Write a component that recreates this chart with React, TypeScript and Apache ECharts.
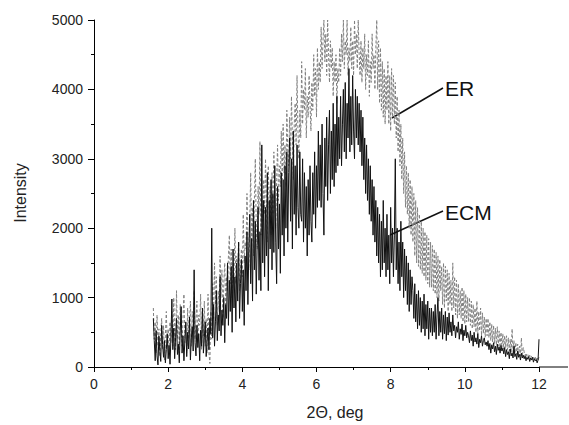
import React, { useEffect, useRef } from "react";
import * as echarts from "echarts";

const X_START = 1.6;
const X_STEP = 0.025;

const xTicks = [0, 2, 4, 6, 8, 10, 12];
const yTicks = [0, 1000, 2000, 3000, 4000, 5000];

// ECM (black, solid) intensities, 1.600 .. 12.000 deg, step 0.025 (20 per row = 0.5 deg)
const ecm = [
  700, 380, 90, 520, 160, 30, 450, 240, 80, 600, 320, 140, 380, 60, 250, 480, 120, 310, 40, 420,
  980, 250, 560, 120, 420, 700, 180, 330, 60, 520, 870, 200, 450, 90, 380, 650, 150, 500, 260, 720,
  100, 420, 580, 230, 1400, 350, 160, 600, 280, 480, 90, 530, 300, 850, 200, 420, 650, 150, 380, 560,
  250, 700, 480, 2000, 420, 900, 300, 650, 1100, 380, 750, 520, 1300, 450, 820, 600, 1000, 350, 900, 700,
  1500, 600, 1250, 800, 1450, 500, 1700, 850, 1300, 650, 1500, 950, 1800, 700, 1200, 1550, 800, 1400, 600, 1600,
  1100, 1950, 900, 1700, 2200, 1200, 1850, 950, 2400, 1400, 2100, 1050, 1750, 2300, 1250, 1950, 1100, 3200, 1500, 2400,
  1300, 2300, 1600, 2800, 1100, 2400, 1700, 2700, 1400, 2500, 1650, 2900, 1800, 1200, 2600, 1700, 2350, 1350, 2800, 1900,
  2700, 1600, 2900, 2000, 3100, 1800, 2800, 3300, 2100, 3000, 1700, 3400, 2200, 2900, 1900, 3200, 2300, 2000, 3100, 2200,
  2100, 3000, 1800, 2800, 2000, 2600, 1600, 2700, 1900, 2900, 2100, 1800, 2800, 2200, 3100, 2000, 2900, 2300, 3400, 2400,
  3200, 2300, 3500, 2500, 1900, 3300, 2600, 3600, 2400, 3200, 3700, 2500, 3400, 2700, 3800, 2600, 3500, 2800, 3900, 2900,
  3600, 3000, 3900, 2900, 3500, 4000, 3100, 4100, 3000, 3800, 3300, 4300, 3100, 3900, 3200, 4200, 3400, 3000, 4000, 3300,
  3900, 3200, 3800, 3100, 3700, 2900, 3600, 2700, 3300, 2500, 3200, 2400, 3000, 2200, 2900, 2100, 2700, 1900, 2600, 1800,
  2400, 1600, 2300, 1500, 2200, 1300, 2100, 1400, 2400, 1500, 2000, 1300, 2200, 1400, 1900, 1200, 2300, 1500, 2000, 1300,
  1900, 3000, 1400, 2000, 1200, 1800, 1100, 2100, 1300, 1800, 1000, 1700, 1100, 1600, 900, 1500, 800, 1400, 900, 1300,
  1100, 700, 1200, 650, 1050, 550, 1100, 600, 1000, 500, 950, 550, 1050, 450, 900, 550, 950, 400, 850, 500,
  850, 450, 800, 500, 900, 400, 750, 1000, 450, 800, 500, 850, 400, 750, 480, 800, 380, 720, 460, 780,
  500, 650, 450, 750, 520, 600, 420, 580, 500, 650, 400, 550, 470, 620, 380, 530, 450, 600, 420, 500,
  450, 350, 520, 380, 460, 300, 500, 360, 420, 330, 480, 280, 400, 350, 450, 300, 380, 420, 320, 360,
  300, 380, 250, 340, 200, 320, 260, 350, 220, 300, 180, 330, 240, 290, 200, 310, 230, 270, 190, 280,
  150, 250, 180, 220, 120, 260, 160, 200, 130, 300, 150, 190, 110, 230, 140, 180, 100, 200, 130, 170,
  120, 160, 90, 140, 110, 150, 80, 130, 100, 140, 70, 120, 90, 110, 60, 100, 400,
];

// ER (grey, dashed) intensities, 1.600 .. 12.000 deg, step 0.025
const er = [
  850, 400, 650, 200, 750, 300, 550, 150, 480, 700, 250, 600, 100, 450, 800, 300, 550, 200, 650, 350,
  800, 300, 1000, 450, 250, 1100, 400, 750, 200, 900, 550, 300, 700, 1050, 350, 600, 200, 850, 400, 650,
  950, 300, 800, 500, 1100, 400, 650, 950, 350, 750, 600, 1050, 250, 800, 450, 950, 300, 700, 200, 1050,
  200, 50, 800, 400, 1200, 700, 1500, 900, 1300, 600, 1100, 800, 1600, 1000, 1400, 700, 1200, 1500, 900, 1300,
  1100, 1600, 1900, 1200, 1700, 1000, 1500, 1300, 2000, 1200, 1600, 1500, 1800, 1100, 1400, 1700, 1300, 2200, 1500, 1800,
  1700, 2500, 1900, 1400, 2100, 2800, 1800, 2300, 1600, 2400, 3000, 2000, 1700, 2600, 2200, 3250, 1900, 2400, 2100, 2700,
  2200, 3000, 2400, 1800, 2900, 2300, 2600, 1900, 2800, 2200, 3100, 2500, 2000, 2700, 3200, 2400, 2900, 2600, 3400, 2700,
  3500, 2800, 3200, 2600, 3700, 3100, 2900, 3600, 3000, 3900, 3300, 2700, 3500, 3800, 3200, 4200, 3400, 3000, 3700, 3300,
  4400, 3500, 4000, 3700, 4300, 3300, 3900, 3600, 4200, 3800, 3400, 4100, 3700, 4500, 3900, 4300, 3600, 4600, 4000, 4400,
  4100, 4900, 4300, 4700, 5000, 4400, 4800, 4200, 5000, 4500, 4100, 4700, 4300, 4600, 3900, 4400, 4100, 4500, 3800, 4300,
  4100, 4600, 4200, 4800, 4400, 5000, 4300, 4700, 4500, 5000, 4200, 4600, 4400, 4900, 4300, 4700, 4200, 5000, 4500, 4800,
  4300, 5000, 4500, 4200, 4700, 4100, 4600, 4300, 4800, 4000, 4500, 4200, 4700, 3900, 4400, 4100, 4800, 4300, 4500, 4000,
  4600, 5000, 4000, 4700, 3800, 4600, 3700, 4400, 3600, 4300, 3500, 4200, 3700, 4400, 3500, 4200, 3400, 4300, 3600, 4200,
  3500, 4100, 3300, 3900, 3100, 3700, 2900, 3500, 2700, 3300, 2500, 3100, 2300, 2900, 2200, 2800, 2000, 2700, 1900, 2600,
  1800, 2500, 1600, 2400, 1500, 2300, 1450, 2200, 1400, 2100, 1350, 2000, 1300, 1950, 1250, 1900, 1200, 1850, 1150, 1800,
  1150, 1750, 1100, 1700, 1050, 1650, 1000, 1600, 950, 1550, 1100, 1450, 900, 1500, 850, 1450, 950, 1400, 800, 1350,
  900, 1250, 800, 1500, 850, 1300, 750, 1250, 700, 1200, 750, 1100, 700, 1150, 650, 1100, 620, 1050, 650, 1000,
  650, 1000, 600, 950, 550, 900, 580, 850, 500, 950, 480, 800, 520, 850, 450, 780, 480, 720, 430, 700,
  450, 700, 420, 650, 380, 620, 360, 600, 340, 560, 320, 580, 300, 520, 280, 500, 270, 480, 260, 450,
  280, 450, 250, 420, 230, 400, 220, 550, 200, 380, 190, 350, 180, 330, 170, 300, 160, 420, 150, 280,
  220, 160, 200, 150, 180, 130, 170, 120, 160, 110, 150, 100, 140, 100, 130, 90, 150,
];

const toPoints = (vals: number[]) =>
  vals.map((v, i) => [Math.round((X_START + i * X_STEP) * 1000) / 1000, v]);

const FONT = "'Liberation Sans', Arial, sans-serif";

export default function App() {
  const ref = useRef<HTMLDivElement>(null);
  useEffect(() => {
    if (!ref.current) return;
    const chart = echarts.init(ref.current, undefined, { renderer: "svg" });
    const gridLeft = 94;
    const gridTop = 20;
    const gridW = 445;
    const gridH = 347;
    chart.setOption({
      animation: false,
      backgroundColor: "#ffffff",
      grid: { left: gridLeft, top: gridTop, width: gridW, height: gridH },
      xAxis: {
        type: "value",
        min: xTicks[0],
        max: xTicks[xTicks.length - 1],
        interval: 2,
        axisLine: { show: true, lineStyle: { color: "#000", width: 1 } },
        axisTick: { show: true, inside: false, length: 5, lineStyle: { color: "#000" } },
        minorTick: { show: true, splitNumber: 2, length: 3, lineStyle: { color: "#000" } },
        splitLine: { show: false },
        axisLabel: {
          color: "#222",
          fontSize: 14,
          fontFamily: FONT,
          margin: 10,
          formatter: (v: number) => String(v),
        },
      },
      yAxis: {
        type: "value",
        min: yTicks[0],
        max: yTicks[yTicks.length - 1],
        interval: 1000,
        axisLine: { show: true, lineStyle: { color: "#000", width: 1 } },
        axisTick: { show: true, inside: false, length: 6, lineStyle: { color: "#000" } },
        minorTick: { show: true, splitNumber: 2, length: 3, lineStyle: { color: "#000" } },
        splitLine: { show: false },
        axisLabel: {
          color: "#222",
          fontSize: 14,
          fontFamily: FONT,
          margin: 11,
          formatter: (v: number) => String(v),
        },
      },
      series: [
        {
          name: "ER",
          type: "line",
          data: toPoints(er),
          showSymbol: false,
          symbol: "none",
          clip: true,
          lineStyle: { color: "#808080", width: 1, type: [3, 2] },
          z: 2,
        },
        {
          name: "ECM",
          type: "line",
          data: toPoints(ecm),
          showSymbol: false,
          symbol: "none",
          clip: true,
          lineStyle: { color: "#111", width: 1 },
          z: 3,
        },
      ],
      graphic: [
        {
          type: "line",
          shape: { x1: gridLeft + gridW, y1: gridTop + gridH, x2: 568, y2: gridTop + gridH },
          style: { stroke: "#000", lineWidth: 1 },
        },
        {
          type: "text",
          x: 335,
          y: 412,
          style: { text: "2Θ, deg", font: `16px ${FONT}`, fill: "#222", align: "center", verticalAlign: "middle" },
        },
        {
          type: "text",
          x: 20,
          y: 193,
          rotation: Math.PI / 2,
          style: { text: "Intensity", font: `16px ${FONT}`, fill: "#222", align: "center", verticalAlign: "middle" },
        },
        {
          type: "line",
          shape: { x1: 443, y1: 88, x2: 392, y2: 118 },
          style: { stroke: "#111", lineWidth: 1.5 },
        },
        {
          type: "text",
          x: 445,
          y: 88,
          style: { text: "ER", font: `21px ${FONT}`, fill: "#111", align: "left", verticalAlign: "middle" },
        },
        {
          type: "line",
          shape: { x1: 443, y1: 211, x2: 390, y2: 235 },
          style: { stroke: "#111", lineWidth: 1.5 },
        },
        {
          type: "text",
          x: 445,
          y: 212,
          style: { text: "ECM", font: `21px ${FONT}`, fill: "#111", align: "left", verticalAlign: "middle" },
        },
      ],
    });
    return () => chart.dispose();
  }, []);
  return (
    <div
      ref={ref}
      style={{ position: "absolute", left: 0, top: 0, width: 569, height: 425 }}
    />
  );
}
